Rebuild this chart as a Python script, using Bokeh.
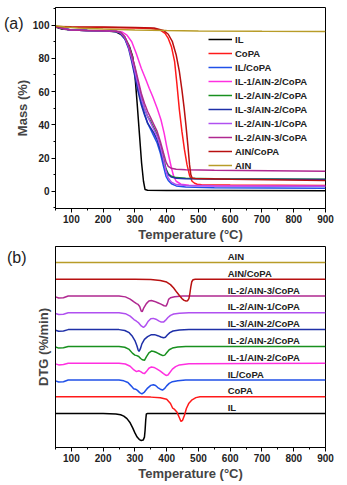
from bokeh.plotting import figure
from bokeh.layouts import column
from bokeh.models import Legend, LegendItem, LinearAxis, FixedTicker, ColumnDataSource, Range1d
from bokeh.embed import file_html
from bokeh.resources import INLINE
from bokeh.core.properties import value

FONT = "Liberation Sans"

# ---------------- data ----------------
names = ["IL", "CoPA", "IL/CoPA", "IL-1/AIN-2/CoPA", "IL-2/AIN-2/CoPA",
         "IL-3/AIN-2/CoPA", "IL-2/AIN-1/CoPA", "IL-2/AIN-3/CoPA", "AIN/CoPA", "AIN"]
colors = ["#000000", "#ff1a1a", "#2050e8", "#ff30e0", "#18901f",
          "#1f30a8", "#b050f0", "#b02890", "#b81010", "#b89c28"]

x_ticks = [100, 200, 300, 400, 500, 600, 700, 800, 900]
x_minor = [50, 150, 250, 350, 450, 550, 650, 750, 850]
mass_ticks = [0, 20, 40, 60, 80, 100]
mass_minor = [-10, 10, 30, 50, 70, 90, 110]
panel_tags = ["(a)", "(b)"]

# TGA curves (temperature °C, mass %)
tga_IL_T = [50, 70, 100, 150, 200, 240, 255, 270, 283, 293, 300, 307, 314, 321, 327, 332, 340, 400, 600, 900]
tga_IL_m = [98.8, 97.6, 97.0, 96.8, 96.6, 96.0, 94.5, 91.5, 87, 81, 70, 53, 35, 17, 6, 1, 0.6, 0.5, 0.4, 0.3]

tga_CoPA_T = [50, 100, 200, 300, 350, 380, 395, 405, 415, 425, 432, 440, 448, 456, 464, 472, 480, 488, 496, 510, 600, 900]
tga_CoPA_m = [99, 98.7, 98.5, 98.3, 98, 97, 95, 92, 87, 78, 65, 49, 36, 25, 16, 9.5, 6, 4.8, 4.2, 3.9, 3.7, 3.5]

comp_T = [50, 65, 80, 100, 150, 200, 240, 255, 268, 280, 290, 300, 310, 320, 330, 340, 350, 360, 370, 380,
          390, 398, 405, 415, 430, 460, 550, 900]
tga_ILCoPA_m = [99.2, 98.4, 97.6, 97.1, 96.8, 96.6, 96.2, 95, 92, 87, 80, 71, 62, 54, 47, 41, 37, 33, 29, 23,
                15, 9, 6.5, 4.5, 3.2, 2.5, 2.1, 1.8]
tga_IL3AIN2_m = [99.2, 98.4, 97.6, 97.1, 96.8, 96.6, 96.2, 95, 92, 86, 78, 69, 60, 52, 46, 41, 38, 35, 31, 25,
                 18, 12.5, 10, 8.5, 7.8, 7.5, 7.3, 7.0]
tga_IL2AIN2_m = [99.2, 98.4, 97.6, 97.1, 96.8, 96.6, 96.3, 95.5, 93, 88, 82, 74, 65, 57, 50, 45, 42, 38, 34, 28,
                 20, 13.5, 10.5, 9, 8.2, 7.8, 7.5, 7.2]
tga_IL2AIN1_m = [99.2, 98.4, 97.6, 97.1, 96.8, 96.6, 96.3, 95.3, 92.5, 87, 80, 72, 64, 56, 50, 45, 41, 37, 33, 27,
                 19, 12, 8, 5.5, 4, 3.5, 3.2, 3.0]
tga_IL2AIN3_m = [99.2, 98.4, 97.6, 97.1, 96.8, 96.6, 96.3, 95.5, 93, 88, 82, 75, 67, 59, 53, 48, 44, 40, 36, 30,
                 23, 17.5, 15, 13.8, 13.2, 13, 12.6, 12.0]

tga_IL1AIN2_T = [50, 65, 80, 100, 150, 200, 240, 260, 275, 290, 304, 320, 335, 345, 356, 370, 382, 392, 400, 408,
                 415, 422, 430, 445, 470, 550, 900]
tga_IL1AIN2_m = [99.2, 98.4, 97.6, 97.1, 96.8, 96.6, 96.4, 95.8, 94, 90, 83, 74, 67, 62, 57, 50, 43, 35, 27, 20,
                 14, 9, 6, 4.2, 3.6, 3.3, 3.0]

tga_AINCoPA_T = [50, 100, 200, 300, 360, 390, 405, 418, 430, 440, 448, 455, 461, 467, 472, 476, 480, 490, 600, 900]
tga_AINCoPA_m = [99.2, 99, 98.8, 98.6, 98.2, 96.8, 94.5, 90, 82, 72, 61, 50, 39, 27, 16, 10, 8, 7.6, 7.2, 6.5]

tga_AIN_T = [50, 80, 120, 200, 300, 400, 500, 700, 900]
tga_AIN_m = [99.6, 98.8, 98.2, 97.6, 97.1, 96.7, 96.5, 96.3, 96.2]

tga_T = [tga_IL_T, tga_CoPA_T, comp_T, tga_IL1AIN2_T, comp_T, comp_T, comp_T, comp_T, tga_AINCoPA_T, tga_AIN_T]
tga_m = [tga_IL_m, tga_CoPA_m, tga_ILCoPA_m, tga_IL1AIN2_m, tga_IL2AIN2_m, tga_IL3AIN2_m,
         tga_IL2AIN1_m, tga_IL2AIN3_m, tga_AINCoPA_m, tga_AIN_m]

# DTG curves (temperature °C, signal relative to each curve's baseline, arbitrary units)
dtg_IL_T = [50, 200, 240, 255, 265, 275, 285, 293, 300, 307, 314, 320, 326, 330, 332, 334, 336, 340, 900]
dtg_IL_v = [0, 0, -0.02, -0.07, -0.15, -0.3, -0.55, -0.85, -1.15, -1.4, -1.55, -1.6, -1.58, -1.4, -1.0, -0.4, -0.02, 0, 0]

dtg_CoPA_T = [50, 300, 350, 380, 400, 412, 419, 425, 432, 440, 445, 450, 456, 462, 470, 480, 492, 505, 900]
dtg_CoPA_v = [0, 0, -0.02, -0.06, -0.15, -0.4, -0.68, -0.75, -0.9, -1.25, -1.47, -1.4, -1.1, -0.7, -0.38, -0.18, -0.05, 0, 0]

dtg_ILCoPA_T = [50, 60, 75, 90, 250, 265, 278, 288, 296, 302, 308, 315, 322, 330, 340, 350, 358, 365, 372, 380,
                387, 393, 400, 408, 418, 435, 460, 900]
dtg_ILCoPA_v = [-0.05, -0.12, -0.1, 0, 0, -0.05, -0.15, -0.35, -0.52, -0.55, -0.62, -0.75, -0.83, -0.72, -0.48,
                -0.32, -0.28, -0.33, -0.45, -0.55, -0.6, -0.52, -0.35, -0.2, -0.1, -0.04, 0, 0]

dtg_IL1AIN2_T = [50, 60, 75, 90, 250, 270, 285, 297, 305, 312, 318, 324, 330, 336, 344, 352, 360, 370, 380, 390,
                 398, 404, 410, 418, 428, 440, 470, 900]
dtg_IL1AIN2_v = [-0.04, -0.1, -0.08, 0, 0, -0.05, -0.18, -0.4, -0.5, -0.45, -0.5, -0.58, -0.62, -0.5, -0.3,
                 -0.22, -0.25, -0.35, -0.47, -0.62, -0.73, -0.7, -0.55, -0.35, -0.2, -0.1, -0.03, 0]

dtg_IL2AIN2_T = [50, 60, 75, 90, 250, 268, 282, 292, 300, 306, 312, 318, 324, 330, 336, 344, 352, 360, 370, 380,
                 388, 394, 400, 408, 418, 435, 460, 900]
dtg_IL2AIN2_v = [-0.04, -0.1, -0.08, 0, 0, -0.05, -0.18, -0.4, -0.52, -0.55, -0.6, -0.72, -0.8, -0.83, -0.62,
                 -0.38, -0.28, -0.3, -0.38, -0.48, -0.55, -0.52, -0.38, -0.2, -0.1, -0.04, 0, 0]

dtg_IL3AIN2_T = [50, 60, 75, 90, 250, 268, 282, 292, 300, 306, 310, 313, 317, 322, 330, 340, 352, 362, 372, 382,
                 390, 396, 402, 410, 420, 440, 470, 900]
dtg_IL3AIN2_v = [-0.04, -0.1, -0.08, 0, 0, -0.05, -0.18, -0.4, -0.65, -0.95, -1.2, -1.3, -1.15, -0.85, -0.58,
                 -0.42, -0.3, -0.3, -0.36, -0.44, -0.48, -0.45, -0.32, -0.18, -0.08, -0.02, 0, 0]

dtg_IL2AIN1_T = [50, 60, 75, 90, 250, 270, 285, 297, 305, 312, 320, 327, 334, 342, 350, 358, 366, 375, 383, 390,
                 396, 404, 412, 422, 440, 470, 900]
dtg_IL2AIN1_v = [-0.04, -0.1, -0.08, 0, 0, -0.05, -0.2, -0.4, -0.5, -0.6, -0.78, -0.87, -0.75, -0.5, -0.35,
                 -0.33, -0.38, -0.48, -0.55, -0.55, -0.45, -0.28, -0.15, -0.07, -0.02, 0, 0]

dtg_IL2AIN3_T = [50, 60, 75, 90, 250, 270, 285, 297, 305, 310, 315, 320, 323, 328, 336, 344, 352, 362, 372, 382,
                 392, 398, 402, 406, 412, 425, 450, 900]
dtg_IL2AIN3_v = [-0.05, -0.12, -0.1, 0, 0, -0.05, -0.18, -0.35, -0.45, -0.5, -0.62, -0.9, -0.93, -0.7, -0.45,
                 -0.3, -0.27, -0.32, -0.4, -0.48, -0.58, -0.6, -0.45, -0.2, -0.1, -0.04, 0, 0]

dtg_AINCoPA_T = [50, 300, 350, 380, 400, 412, 422, 432, 440, 448, 455, 461, 466, 470, 473, 476, 479, 483, 490, 900]
dtg_AINCoPA_v = [0, 0, -0.02, -0.07, -0.17, -0.32, -0.52, -0.78, -0.97, -1.15, -1.26, -1.3, -1.28, -1.15, -0.85,
                 -0.45, -0.15, -0.03, 0, 0]

dtg_AIN_T = [50, 900]
dtg_AIN_v = [0, 0]

dtg_T = [dtg_IL_T, dtg_CoPA_T, dtg_ILCoPA_T, dtg_IL1AIN2_T, dtg_IL2AIN2_T, dtg_IL3AIN2_T,
         dtg_IL2AIN1_T, dtg_IL2AIN3_T, dtg_AINCoPA_T, dtg_AIN_T]
dtg_v = [dtg_IL_v, dtg_CoPA_v, dtg_ILCoPA_v, dtg_IL1AIN2_v, dtg_IL2AIN2_v, dtg_IL3AIN2_v,
         dtg_IL2AIN1_v, dtg_IL2AIN3_v, dtg_AINCoPA_v, dtg_AIN_v]
dtg_offsets = [0, 1, 2, 3, 4, 5, 6, 7, 8, 9]

# label positions for DTG curves
dtg_label_T = 592
dtg_label_dy = 0.35


def style_axes(p, x_label, y_label):
    p.xaxis.axis_label = x_label
    p.yaxis.axis_label = y_label
    for ax in (p.xaxis[0], p.yaxis[0]):
        ax.axis_label_text_font = FONT
        ax.axis_label_text_font_style = "bold"
        ax.axis_label_text_font_size = "13px"
        ax.major_label_text_font = FONT
        ax.major_label_text_font_style = "bold"
        ax.major_label_text_font_size = "10px"
        ax.major_label_text_color = "#222222"
        ax.axis_line_color = "black"
        ax.major_tick_line_color = "black"
        ax.minor_tick_line_color = "black"
        ax.major_tick_in = 0
        ax.major_tick_out = 4
        ax.minor_tick_in = 0
        ax.minor_tick_out = 2
        ax.major_label_standoff = 2
        ax.axis_label_standoff = 1
    p.xgrid.visible = False
    p.ygrid.visible = False
    p.outline_line_color = "black"
    p.outline_line_width = 1
    p.background_fill_color = "white"
    p.border_fill_color = "white"


def tag_axis(tick_value, tag, standoff):
    ax = LinearAxis(ticker=FixedTicker(ticks=[tick_value], minor_ticks=[]),
                    major_label_overrides={tick_value: tag},
                    axis_line_color=None, major_tick_line_color=None, minor_tick_line_color=None,
                    major_tick_in=0, major_tick_out=0, minor_tick_in=0, minor_tick_out=0,
                    major_label_standoff=standoff, major_label_text_font=FONT,
                    major_label_text_font_size="16px", major_label_text_font_style="normal",
                    major_label_text_color="#222222")
    return ax


# ---------------- panel (a) TGA ----------------
pa = figure(width=347, height=244, x_range=Range1d(50, 900), y_range=Range1d(-10.4, 110.6),
            output_backend="svg", toolbar_location=None,
            min_border_left=54, min_border_right=22, min_border_top=7, min_border_bottom=34)
style_axes(pa, "Temperature (°C)", "Mass (%)")
pa.xaxis.ticker = FixedTicker(ticks=x_ticks, minor_ticks=x_minor)
pa.yaxis.ticker = FixedTicker(ticks=mass_ticks, minor_ticks=mass_minor)
pa.yaxis.axis_label_standoff = 0
pa.add_layout(tag_axis(101, panel_tags[0], -12), "left")

items = []
for i in range(len(names)):
    r = pa.line(tga_T[i], tga_m[i], line_color=colors[i], line_width=1.5)
    items.append(LegendItem(label=names[i], renderers=[r]))

leg = Legend(items=items, location=(153, 37), border_line_color=None, background_fill_alpha=0,
             padding=0, margin=0, spacing=2, label_height=12, glyph_height=12, glyph_width=24,
             label_standoff=3, label_text_font=FONT, label_text_font_style="bold",
             label_text_font_size="9.5px", label_text_color="#222222")
pa.add_layout(leg, "center")

# ---------------- panel (b) DTG ----------------
pb = figure(width=347, height=241, x_range=Range1d(50, 900), y_range=Range1d(-2.02, 9.95),
            output_backend="svg", toolbar_location=None,
            min_border_left=54, min_border_right=22, min_border_top=2, min_border_bottom=38)
style_axes(pb, "Temperature (°C)", "DTG (%/min)")
pb.xaxis.ticker = FixedTicker(ticks=x_ticks, minor_ticks=x_minor)
pb.yaxis.ticker = FixedTicker(ticks=[], minor_ticks=[])
pb.yaxis.major_tick_out = 0
pb.yaxis.minor_tick_out = 0
pb.yaxis.major_label_standoff = 0
pb.yaxis.axis_label_standoff = 5
pb.add_layout(tag_axis(9.3, panel_tags[1], 6), "left")

for i in range(len(names)):
    ys = [v + dtg_offsets[i] for v in dtg_v[i]]
    pb.line(dtg_T[i], ys, line_color=colors[i], line_width=1.5)

lab_src = ColumnDataSource(dict(x=[dtg_label_T] * len(names),
                                y=[o + dtg_label_dy for o in dtg_offsets],
                                t=names))
pb.text(x="x", y="y", text="t", source=lab_src, text_font=value(FONT), text_font_style="bold",
        text_font_size="9.5px", text_baseline="middle", text_align="left", text_color="#222222")

layout = column(pa, pb, spacing=0)
open("out.html", "w").write(file_html(layout, INLINE))
